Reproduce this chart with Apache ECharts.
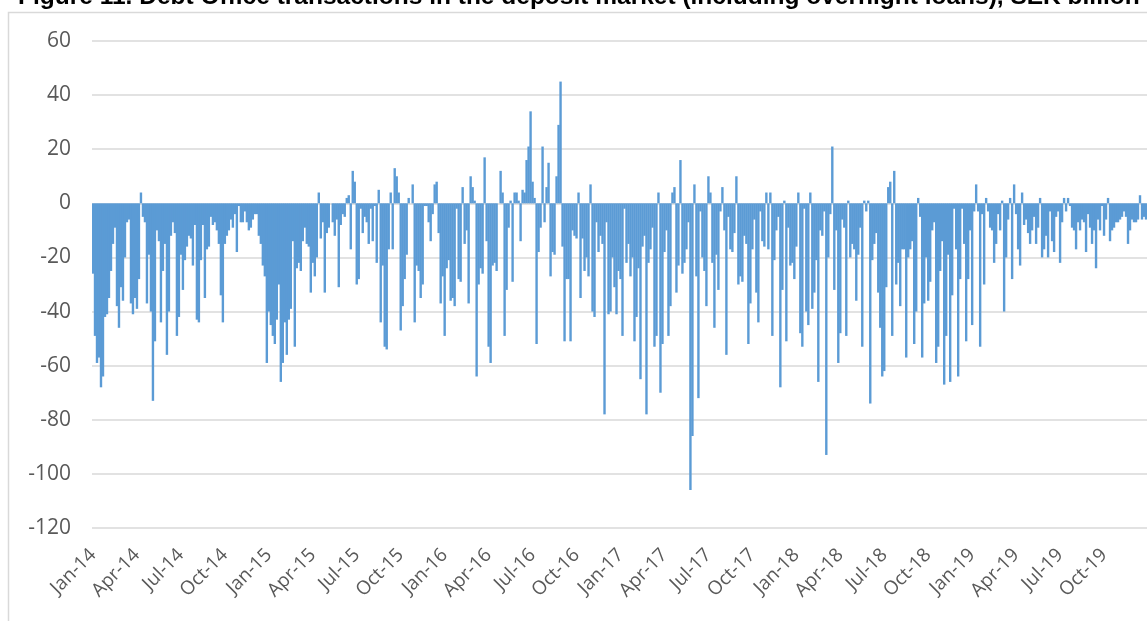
<!DOCTYPE html>
<html>
<head>
<meta charset="utf-8">
<script src="https://cdn.jsdelivr.net/npm/echarts@6/dist/echarts.min.js"></script>
<style>
  html, body { margin: 0; padding: 0; background: #fff; }
  #chart { width: 1147px; height: 621px; }
</style>
</head>
<body>
<div id="chart"></div>
<script>
// quarter tick labels
var quarterLabels = ["Jan-14","Apr-14","Jul-14","Oct-14","Jan-15","Apr-15","Jul-15","Oct-15",
  "Jan-16","Apr-16","Jul-16","Oct-16","Jan-17","Apr-17","Jul-17","Oct-17",
  "Jan-18","Apr-18","Jul-18","Oct-18","Jan-19","Apr-19","Jul-19","Oct-19"];

// SEK billion (about 3 trading days per value)
var q2014_1 = [-26,-49,-59,-57,-68,-64,-42,-41,-35,-25,-15,-9,-38,-46,-31,-36,-20,-7,-6,-37,-41,-35];
var q2014_2 = [-39,-28,4,-5,-7,-37,-19,-40,-73,-51,-10,-14,-44,-25,-15,-56,-40,-12,-7,-11,-49,-42];
var q2014_3 = [-19,-32,-21,-16,-12,-13,-23,-8,-43,-44,-21,-8,-35,-17,-16,-5,-8,-7,-10,-15,-34,-44];
var q2014_4 = [-15,-12,-10,-6,-9,-4,-18,-1,-7,-7,-3,-7,-10,-9,-6,-4,-4,-12,-15,-23,-27,-59];
var q2015_1 = [-40,-45,-49,-52,-43,-30,-66,-59,-44,-56,-43,-39,-14,-53,-24,-22,-25,-14,-9,-15,-16,-33];
var q2015_2 = [-22,-27,-20,4,-13,-7,-33,-11,-9,0,-7,-12,-6,-31,-8,-4,-5,2,3,-17,12,8];
var q2015_3 = [-30,-28,-2,-11,-5,-7,-15,-2,-14,-1,-22,5,-44,-23,-53,-54,-17,4,-17,13,10,4];
var q2015_4 = [-47,-38,-28,-19,2,0,7,-44,-23,-25,-35,-30,-1,-1,-7,-14,-4,7,8,-11,-37,-27];
var q2016_1 = [-49,-24,-21,-36,-35,-38,-2,-28,-29,6,-15,-10,-37,10,6,1,-64,-30,-24,-26,17,-14];
var q2016_2 = [-53,-59,-23,-22,-25,0,12,4,-49,-32,-9,1,-29,4,4,1,-14,5,4,16,21,34];
var q2016_3 = [8,2,-52,-18,-9,21,-7,6,15,-27,-18,-19,10,29,45,-16,-51,-28,-28,-51,-10,-12];
var q2016_4 = [-13,4,-35,-13,-25,-20,-27,7,-40,-42,-7,-18,-12,-15,-78,-7,-41,-40,-20,-31,-41,-25];
var q2017_1 = [-28,-49,-2,-22,-15,-27,-20,-51,-42,-24,-65,-16,-12,-78,-22,-17,-9,-53,-49,4,-70,-52];
var q2017_2 = [-18,-10,-49,-38,4,6,-33,-23,16,-26,-22,-17,-7,-106,-86,7,-27,-72,-3,-20,-25,-38];
var q2017_3 = [10,4,-22,-46,-19,-32,-3,6,-10,-56,-5,-17,-18,-11,10,-30,-27,-29,-12,-15,-52,-37];
var q2017_4 = [-17,-6,-33,-44,-3,-14,-16,4,-17,4,-49,-21,-10,-5,-68,-32,1,-51,-9,-23,-22,-28];
var q2018_1 = [-16,4,-48,-53,-2,-40,-45,4,-39,-33,-21,-66,-10,-12,-3,-93,-20,-4,21,-32,-10,-59];
var q2018_2 = [-48,-6,-9,-49,1,-20,-15,-17,-36,-19,-9,-53,1,-3,1,-74,-21,-15,-11,-33,-46,-64];
var q2018_3 = [-62,-31,6,8,-49,12,-30,-22,-38,-17,-17,-57,-20,-17,-14,-52,-40,2,-5,-57,-37,-20];
var q2018_4 = [-36,-29,-10,-7,-59,-53,-25,-14,-67,-49,-19,-66,-34,-2,-17,-64,-28,-2,-15,-51,-28,-10];
var q2019_1 = [-45,-3,7,-3,-53,-4,-30,2,-3,-9,-10,-22,-15,-4,-10,1,-40,-20,-6,2,-28,7];
var q2019_2 = [-4,-17,-23,4,-8,-6,-11,-15,-10,-5,-15,-9,2,-20,-17,-12,-20,-3,-14,-18,-5,-3];
var q2019_3 = [-22,-7,2,-3,2,-1,-9,-10,-17,-7,-10,-6,-7,-18,-4,-9,-15,-10,-24,-6,-10,-1];
var q2019_4 = [-12,-6,2,-14,-10,-9,-7,-7,-6,-5,-3,-5,-15,-10,-6,-7,-7,-6,3,-6,-5,-6];

var quarters = [q2014_1,q2014_2,q2014_3,q2014_4,q2015_1,q2015_2,q2015_3,q2015_4,
  q2016_1,q2016_2,q2016_3,q2016_4,q2017_1,q2017_2,q2017_3,q2017_4,
  q2018_1,q2018_2,q2018_3,q2018_4,q2019_1,q2019_2,q2019_3,q2019_4];

var categories = [];
var values = [];
var firstOfQuarter = {};
quarters.forEach(function (q, qi) {
  firstOfQuarter[categories.length] = true;
  q.forEach(function (v) {
    categories.push(quarterLabels[qi]);
    values.push(v);
  });
});

var chart = echarts.init(document.getElementById("chart"));
var option = {
  animation: false,
  backgroundColor: "#fff",
  title: {
    text: "Figure 11. Debt Office transactions in the deposit market (including overnight loans), SEK billion",
    left: 18,
    top: -15,
    padding: 0,
    textStyle: {
      fontFamily: "Liberation Sans",
      fontWeight: "bold",
      fontSize: 24.5,
      color: "#000"
    }
  },
  graphic: [{
    type: "rect",
    shape: { x: 8.5, y: 12.5, width: 1300, height: 700 },
    style: { fill: "none", stroke: "#D9D9D9", lineWidth: 1.5 },
    silent: true
  }],
  grid: { left: 92, right: 0, top: 41, bottom: 93 },
  xAxis: {
    type: "category",
    data: categories,
    axisLine: { show: false, onZero: false },
    axisTick: { show: false },
    axisLabel: {
      interval: function (idx) { return !!firstOfQuarter[idx]; },
      rotate: 45,
      margin: 24,
      color: "#595959",
      fontFamily: "Open Sans",
      fontSize: 19
    },
    splitLine: { show: false }
  },
  yAxis: {
    type: "value",
    min: -120,
    max: 60,
    interval: 20,
    axisLine: { show: false },
    axisTick: { show: false },
    axisLabel: {
      margin: 21,
      color: "#595959",
      fontFamily: "Open Sans",
      fontSize: 21
    },
    splitLine: { lineStyle: { color: "#D9D9D9", width: 1.5 } }
  },
  series: [{
    type: "bar",
    data: values,
    barWidth: 2.4,
    itemStyle: { color: "#5B9BD5" }
  }]
};
chart.setOption(option);
</script>
</body>
</html>
